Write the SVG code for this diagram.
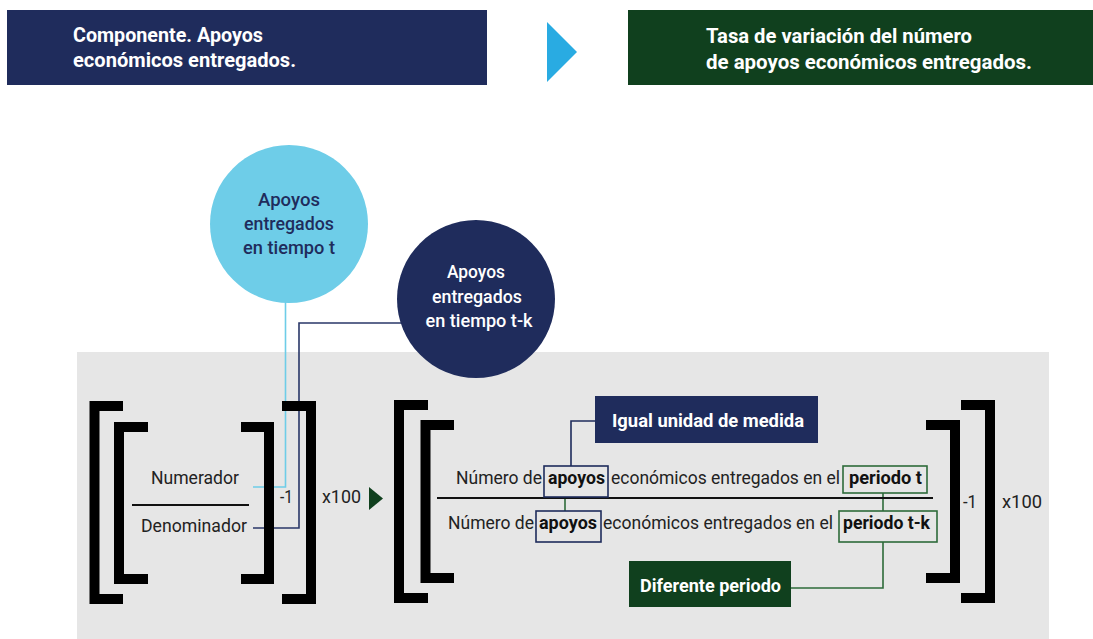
<svg xmlns="http://www.w3.org/2000/svg" width="1093" height="639" viewBox="0 0 1093 639">
<style>
text{font-family:Roboto,"Liberation Sans",sans-serif}
.hd{font-size:20px;font-weight:700;fill:#fff}
.ci{font-size:19px;font-weight:500;text-anchor:middle}
.fm{font-size:19px;fill:#222}
.fb{font-size:19px;fill:#111;font-weight:700}
.lb{font-size:18px;font-weight:700;fill:#fff}
.br{fill:none;stroke:#000;stroke-width:10;stroke-linejoin:miter}
.fl{stroke:#111;stroke-width:2}
.cn{fill:none;stroke-width:1.6}
</style>
<rect width="1093" height="639" fill="#fff"/>
<g id="header-left">
<rect x="7" y="10" width="480" height="75" fill="#1f2c5c"/>
<text class="hd" x="73" y="42" textLength="190" lengthAdjust="spacingAndGlyphs">Componente. Apoyos</text>
<text class="hd" x="73" y="67" textLength="223" lengthAdjust="spacingAndGlyphs">económicos entregados.</text>
</g>
<g id="header-arrow"><polygon points="547,22 577,52 547,82" fill="#29abe2"/></g>
<g id="header-right">
<rect x="628" y="10" width="465" height="75" fill="#10401e"/>
<text class="hd" x="706" y="43" textLength="266" lengthAdjust="spacingAndGlyphs">Tasa de variación del número</text>
<text class="hd" x="706" y="69" textLength="326" lengthAdjust="spacingAndGlyphs">de apoyos económicos entregados.</text>
</g>
<g id="panel"><rect x="77" y="352" width="972" height="287" fill="#e6e6e6"/></g>
<g id="connectors">
<polyline class="cn" stroke="#6ecde8" points="285.5,300 285.5,487 253,487"/>
<polyline class="cn" stroke="#2a3768" points="402,323 299,323 299,528 253,528"/>
<polyline class="cn" stroke="#1f2c5c" points="595,421 571,421 571,466"/>
<line class="cn" stroke="#2e6b3a" x1="565" y1="497" x2="565" y2="511"/>
<line class="cn" stroke="#2e6b3a" x1="883" y1="493" x2="883" y2="511"/>
<polyline class="cn" stroke="#2e6b3a" points="883,542 883,588 791,588"/>
<polygon points="369,487 383,498.5 369,510" fill="#10401e"/>
</g>
<g id="circle-t">
<circle cx="289" cy="224" r="79" fill="#6ecde8"/>
<text class="ci" fill="#1f2c5c" x="289" y="206" textLength="62" lengthAdjust="spacingAndGlyphs">Apoyos</text>
<text class="ci" fill="#1f2c5c" x="289" y="230" textLength="90" lengthAdjust="spacingAndGlyphs">entregados</text>
<text class="ci" fill="#1f2c5c" x="289" y="254" textLength="92" lengthAdjust="spacingAndGlyphs">en tiempo t</text>
</g>
<g id="circle-tk">
<circle cx="476" cy="299" r="79" fill="#1f2c5c"/>
<text class="ci" fill="#fff" x="476" y="278" textLength="58" lengthAdjust="spacingAndGlyphs">Apoyos</text>
<text class="ci" fill="#fff" x="477" y="303" textLength="90" lengthAdjust="spacingAndGlyphs">entregados</text>
<text class="ci" fill="#fff" x="479" y="327" textLength="107" lengthAdjust="spacingAndGlyphs">en tiempo t-k</text>
</g>
<g id="formula-general">
<path class="br" d="M123,406 H94.5 V599 H123"/>
<path class="br" d="M148,427 H119 V579 H148"/>
<path class="br" d="M241,427 H269 V579 H241"/>
<path class="br" d="M282,406 H311 V599 H282"/>
<text class="fm" x="151" y="484" textLength="88" lengthAdjust="spacingAndGlyphs">Numerador</text>
<line class="fl" x1="132" y1="505" x2="249" y2="505"/>
<text class="fm" x="141" y="532" textLength="106" lengthAdjust="spacingAndGlyphs">Denominador</text>
<text class="fm" x="280" y="503" textLength="13" lengthAdjust="spacingAndGlyphs">-1</text>
<text class="fm" x="322" y="503" textLength="39" lengthAdjust="spacingAndGlyphs">x100</text>
</g>
<g id="formula-specific">
<path class="br" d="M428,405 H399 V598 H428"/>
<path class="br" d="M454,425 H425.5 V578 H454"/>
<path class="br" d="M926,425 H955 V578 H926"/>
<path class="br" d="M961,405 H990 V598 H961"/>
<text class="fm" x="456" y="484" textLength="86" lengthAdjust="spacingAndGlyphs">Número de</text>
<text class="fb" x="548" y="484" textLength="57" lengthAdjust="spacingAndGlyphs">apoyos</text>
<text class="fm" x="611" y="484" textLength="229" lengthAdjust="spacingAndGlyphs">económicos entregados en el</text>
<text class="fb" x="849" y="484" textLength="73" lengthAdjust="spacingAndGlyphs">periodo t</text>
<line class="fl" x1="437" y1="498" x2="933" y2="498"/>
<text class="fm" x="448" y="529" textLength="86" lengthAdjust="spacingAndGlyphs">Número de</text>
<text class="fb" x="539" y="529" textLength="58" lengthAdjust="spacingAndGlyphs">apoyos</text>
<text class="fm" x="603" y="529" textLength="230" lengthAdjust="spacingAndGlyphs">económicos entregados en el</text>
<text class="fb" x="843" y="529" textLength="87" lengthAdjust="spacingAndGlyphs">periodo t-k</text>
<text class="fm" x="963" y="508" textLength="14" lengthAdjust="spacingAndGlyphs">-1</text>
<text class="fm" x="1002" y="508" textLength="40" lengthAdjust="spacingAndGlyphs">x100</text>
</g>
<g id="box-apoyos-num"><rect x="544" y="466" width="64" height="31" fill="none" stroke="#1f2c5c" stroke-width="1.6"/></g>
<g id="box-apoyos-den"><rect x="536" y="511" width="65" height="31" fill="none" stroke="#1f2c5c" stroke-width="1.6"/></g>
<g id="box-periodo-t"><rect x="843" y="466" width="84" height="27" fill="none" stroke="#2e6b3a" stroke-width="1.6"/></g>
<g id="box-periodo-tk"><rect x="839" y="511" width="98" height="31" fill="none" stroke="#2e6b3a" stroke-width="1.6"/></g>
<g id="label-igual">
<rect x="595" y="396" width="223" height="47" fill="#1f2c5c"/>
<text class="lb" x="612" y="427" textLength="192" lengthAdjust="spacingAndGlyphs">Igual unidad de medida</text>
</g>
<g id="label-diferente">
<rect x="629" y="561" width="162" height="46" fill="#10401e"/>
<text class="lb" x="640" y="592" textLength="141" lengthAdjust="spacingAndGlyphs">Diferente periodo</text>
</g>
</svg>
